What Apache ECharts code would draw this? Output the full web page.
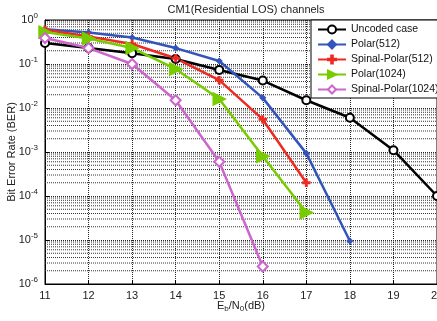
<!DOCTYPE html>
<html>
<head>
<meta charset="utf-8">
<script src="https://cdn.jsdelivr.net/npm/echarts@6/dist/echarts.min.js"></script>
<style>
  html, body { margin: 0; padding: 0; background: #fff; }
  #chart { width: 437px; height: 321px; }
</style>
</head>
<body>
<div id="chart"></div>
<script>
'use strict';
// Eb/N0 (dB)
var snr = [11, 12, 13, 14, 15, 16, 17, 18, 19, 20];
// BER curves
var uncoded = [0.3, 0.23, 0.175, 0.13, 0.073, 0.042, 0.015, 0.006, 0.0011, 0.0001];
var polar512 = [0.62, 0.52, 0.40, 0.23, 0.117, 0.017, 0.00093, 0.0000095];
var spinalPolar512 = [0.6, 0.42, 0.285, 0.135, 0.043, 0.0055, 0.0002];
var polar1024 = [0.53, 0.38, 0.23, 0.077, 0.016, 0.0008, 0.000042];
var spinalPolar1024 = [0.39, 0.23, 0.1, 0.015, 0.0006, 0.0000025];

var FONT = 'Liberation Sans';

function pairs(ys) {
    return ys.map(function (y, i) { return [snr[i], y]; });
}

// minor log grid lines 2..9 x 10^k
var minorTicks = [];
for (var e = -6; e < 0; e++) {
    for (var m = 2; m <= 9; m++) {
        minorTicks.push(m * Math.pow(10, e));
    }
}

var plusPath = 'path://M4,0 L6,0 L6,4 L10,4 L10,6 L6,6 L6,10 L4,10 L4,6 L0,6 L0,4 L4,4 Z';

function line(name, data, color, symbol, size, extra) {
    var s = {
        name: name,
        type: 'line',
        data: pairs(data),
        symbol: symbol,
        symbolSize: size,
        showAllSymbol: true,
        lineStyle: { color: color, width: 2.5 },
        itemStyle: { color: color, borderColor: color, borderWidth: 1.5 },
        emphasis: { disabled: true },
        z: 5
    };
    if (extra) {
        for (var k in extra) s[k] = extra[k];
    }
    return s;
}

var myChart = echarts.init(document.getElementById('chart'));

var option = {
    animation: false,
    backgroundColor: '#fff',
    textStyle: { fontFamily: FONT },
    title: {
        text: 'CM1(Residential LOS) channels',
        left: 241,
        textAlign: 'center',
        top: -1,
        textStyle: { fontFamily: FONT, fontSize: 11, fontWeight: 'normal', color: '#222' }
    },
    grid: {
        left: 45, right: 0, top: 20, bottom: 37,
        containLabel: false,
        outerBoundsMode: 'none',
        show: true, borderColor: '#000', borderWidth: 1
    },
    legend: {
        orient: 'vertical',
        left: 311,
        top: 20,
        padding: [4, 8, 3, 6],
        itemGap: 4,
        itemWidth: 28,
        itemHeight: 10,
        backgroundColor: '#fff',
        borderColor: '#000',
        borderWidth: 1,
        borderRadius: 0,
        textStyle: { fontFamily: FONT, fontSize: 10.5, color: '#111' },
        data: ['Uncoded case', 'Polar(512)', 'Spinal-Polar(512)', 'Polar(1024)', 'Spinal-Polar(1024)']
    },
    xAxis: {
        type: 'value',
        min: 11,
        max: 20,
        interval: 1,
        name: '{n|E}{s|b}{n|/N}{s|0}{n|(dB)}',
        nameLocation: 'middle',
        nameGap: 15,
        nameMoveOverlap: false,
        nameTextStyle: {
            rich: {
                n: { fontFamily: FONT, fontSize: 11, color: '#222' },
                s: { fontFamily: FONT, fontSize: 8, color: '#222', padding: [6, 0, 0, 0] }
            }
        },
        axisLine: { lineStyle: { color: '#000' } },
        axisTick: { inside: true, length: 4, lineStyle: { color: '#000' } },
        axisLabel: { fontFamily: FONT, fontSize: 11, color: '#222', margin: 6 },
        splitLine: { show: true, lineStyle: { color: '#222', type: [1, 1], width: 1 } }
    },
    yAxis: {
        type: 'log',
        logBase: 10,
        min: 1e-6,
        max: 1,
        interval: 1,
        name: 'Bit Error Rate (BER)',
        nameLocation: 'middle',
        nameGap: 28,
        nameMoveOverlap: false,
        nameTextStyle: { fontFamily: FONT, fontSize: 11, color: '#222' },
        axisLine: { lineStyle: { color: '#000' } },
        axisTick: { inside: true, length: 4, lineStyle: { color: '#000' } },
        axisLabel: {
            margin: 7,
            formatter: function (v) {
                var ex = Math.round(Math.log(v) / Math.LN10);
                return '{b|10}{e|' + ex + '}';
            },
            rich: {
                b: { fontFamily: FONT, fontSize: 11, color: '#222' },
                e: { fontFamily: FONT, fontSize: 8, color: '#222', padding: [0, 0, 8, 0] }
            }
        },
        splitLine: { show: true, lineStyle: { color: '#222', type: [1, 1], width: 1 } }
    },
    series: [
        {
            // minor grid of the log axis
            type: 'custom',
            silent: true,
            z: 1,
            data: minorTicks.map(function (v) { return [v]; }),
            renderItem: function (params, api) {
                var v = api.value(0);
                var p1 = api.coord([snr[0], v]);
                var p2 = api.coord([snr[snr.length - 1], v]);
                return {
                    type: 'line',
                    shape: { x1: p1[0], y1: p1[1], x2: p2[0], y2: p2[1] },
                    style: { stroke: '#333', lineWidth: 1, lineDash: [1, 1] }
                };
            },
            encode: { y: 0 }
        },
        line('Uncoded case', uncoded, '#000000', 'emptyCircle', 8),
        line('Polar(512)', polar512, '#3355bb', 'diamond', 5),
        line('Spinal-Polar(512)', spinalPolar512, '#ee2a22', plusPath, 7),
        line('Polar(1024)', polar1024, '#77cc00', 'triangle', 12, { symbolRotate: -90 }),
        line('Spinal-Polar(1024)', spinalPolar1024, '#cc66cc', 'emptyDiamond', 10)
    ]
};

myChart.setOption(option);
</script>
</body>
</html>
